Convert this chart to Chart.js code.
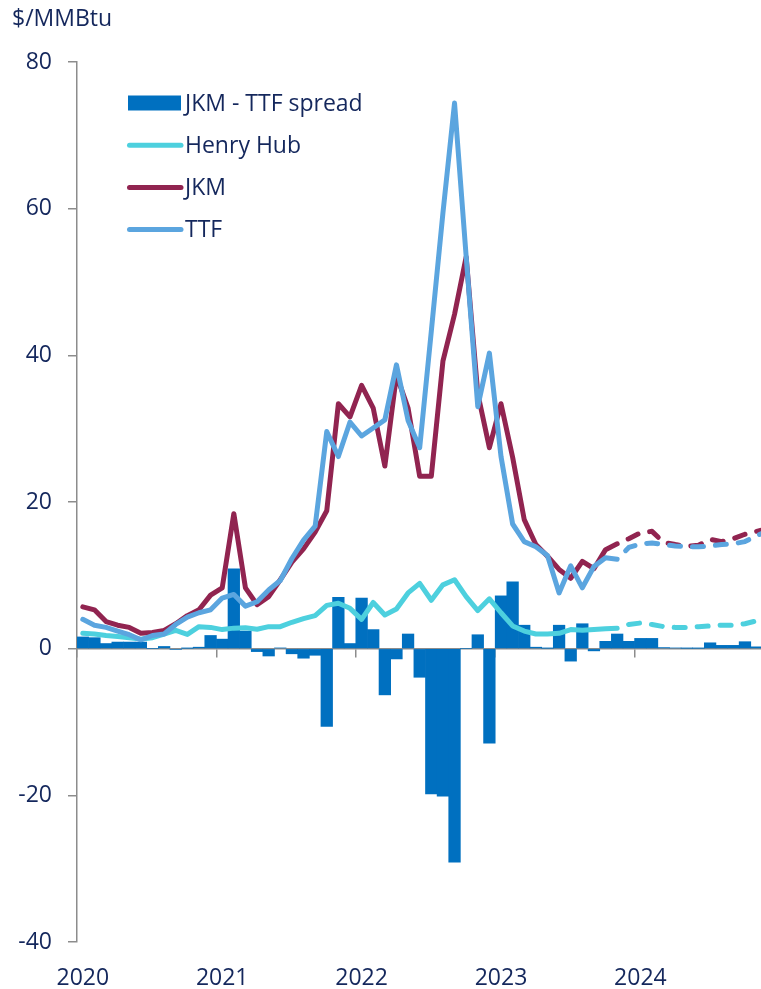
<!DOCTYPE html>
<html>
<head>
<meta charset="utf-8">
<script src="https://cdn.jsdelivr.net/npm/chart.js@4.4.1/dist/chart.umd.min.js"></script>
<style>
html,body{margin:0;padding:0;background:#fff;overflow:hidden;width:761px;height:989px}
#wrap{position:absolute;left:0;top:0;width:774px;height:989px}
</style>
</head>
<body>
<div id="wrap"><canvas id="c" width="774" height="989" style="width:774px;height:989px"></canvas></div>
<script>
// ---- data ----
const categories = [
  'Jan 2020','Feb 2020','Mar 2020','Apr 2020','May 2020','Jun 2020','Jul 2020','Aug 2020','Sep 2020','Oct 2020','Nov 2020','Dec 2020',
  'Jan 2021','Feb 2021','Mar 2021','Apr 2021','May 2021','Jun 2021','Jul 2021','Aug 2021','Sep 2021','Oct 2021','Nov 2021','Dec 2021',
  'Jan 2022','Feb 2022','Mar 2022','Apr 2022','May 2022','Jun 2022','Jul 2022','Aug 2022','Sep 2022','Oct 2022','Nov 2022','Dec 2022',
  'Jan 2023','Feb 2023','Mar 2023','Apr 2023','May 2023','Jun 2023','Jul 2023','Aug 2023','Sep 2023','Oct 2023','Nov 2023','Dec 2023',
  'Jan 2024','Feb 2024','Mar 2024','Apr 2024','May 2024','Jun 2024','Jul 2024','Aug 2024','Sep 2024','Oct 2024','Nov 2024','Dec 2024'
];
const yearLabels = ['2020','2021','2022','2023','2024'];

const spread = [
  1.6, 1.5, 0.7, 0.9, 0.9, 0.9, 0.0, 0.3, -0.1, 0.05, 0.2, 1.8,
  1.3, 10.9, 2.4, -0.4, -1.0, 0.1, -0.7, -1.3, -0.9, -10.6, 7.0, 0.7,
  6.9, 2.6, -6.3, -1.4, 2.0, -3.9, -19.8, -20.1, -29.1, 0.0, 1.9, -12.9,
  7.2, 9.1, 3.2, 0.2, 0.05, 3.2, -1.7, 3.4, -0.3, 1.0, 2.0, 1.0,
  1.4, 1.4, 0.15, 0.1, 0.05, 0.05, 0.8, 0.45, 0.45, 0.95, 0.25, 0.2
];
const henryHub = [
  2.1, 2.0, 1.8, 1.65, 1.5, 1.3, 1.5, 2.0, 2.5, 1.95, 3.0, 2.9,
  2.6, 2.8, 2.85, 2.65, 3.0, 3.0, 3.6, 4.1, 4.5, 5.9, 6.2, 5.5,
  4.0, 6.3, 4.6, 5.4, 7.6, 8.9, 6.6, 8.7, 9.4, 7.1, 5.2, 6.8,
  4.9, 3.1, 2.4, 2.0, 2.0, 2.1, 2.6, 2.5, 2.6, 2.7, 2.8, 3.3,
  3.5, 3.3, 3.0, 2.9, 2.9, 3.0, 3.1, 3.2, 3.2, 3.4, 3.8, 4.2
];
const jkm = [
  5.7, 5.3, 3.7, 3.2, 2.9, 2.1, 2.2, 2.5, 3.4, 4.5, 5.3, 7.3,
  8.3, 18.4, 8.3, 6.0, 7.1, 9.4, 11.8, 13.6, 15.9, 18.8, 33.4, 31.6,
  35.9, 32.8, 24.9, 37.3, 32.8, 23.5, 23.5, 39.2, 45.6, 53.4, 34.8, 27.4,
  33.4, 26.1, 17.6, 14.2, 12.6, 10.8, 9.6, 11.9, 10.9, 13.5, 14.3, 15.0,
  15.8, 16.0, 14.5, 14.2, 13.95, 14.1, 14.9, 14.6, 15.0, 15.6, 16.0, 16.4
];
const ttf = [
  4.0, 3.2, 2.9, 2.4, 1.9, 1.2, 1.8, 2.0, 3.3, 4.3, 4.9, 5.3,
  6.9, 7.4, 5.8, 6.4, 8.0, 9.3, 12.3, 14.8, 16.7, 29.6, 26.2, 30.9,
  29.0, 30.1, 31.2, 38.7, 31.1, 27.4, 43.3, 59.4, 74.4, 53.5, 33.0, 40.3,
  26.2, 17.0, 14.6, 13.9, 12.7, 7.6, 11.3, 8.3, 11.2, 12.4, 12.2, 13.8,
  14.3, 14.4, 14.2, 14.0, 13.9, 13.9, 14.0, 14.2, 14.3, 14.6, 15.4, 16.1
];
const forecastFrom = 46; // index of last actual month; dashed afterwards

// ---- styles ----
const FONT = '"Open Sans", "Noto Sans", sans-serif';
const NAVY = '#14275c';
const GRAY = '#8c8c8c';
const C_BAR = '#0070c0';
const C_HH = '#4dd0de';
const C_JKM = '#912450';
const C_TTF = '#5ba5df';
const FS = 23;

const dashSeg = {
  borderDash: ctx => ctx.p0DataIndex >= forecastFrom ? [11, 12] : undefined,
  borderDashOffset: ctx => ctx.p0DataIndex >= forecastFrom ? 11 : undefined
};

function lineDs(label, data, color, order) {
  return {
    type: 'line', label, data, borderColor: color, backgroundColor: color,
    borderWidth: 5, pointRadius: 0, pointHoverRadius: 0, tension: 0,
    borderJoinStyle: 'round', borderCapStyle: 'round',
    segment: dashSeg, order, xAxisID: 'x', yAxisID: 'y'
  };
}

const insideLegend = {
  id: 'insideLegend',
  afterDraw(chart) {
    const ctx = chart.ctx;
    const x0 = 128, x1 = 181, tx = 185;
    ctx.save();
    ctx.font = FS + 'px ' + FONT;
    ctx.textBaseline = 'middle';
    ctx.textAlign = 'left';
    chart.data.datasets.forEach((d, k) => {
      const y = 103 + k * 42.2;
      if (d.type === 'bar') {
        ctx.fillStyle = d.backgroundColor;
        ctx.fillRect(x0, y - 7.5, x1 - x0, 15);
      } else {
        ctx.strokeStyle = d.borderColor;
        ctx.lineWidth = 5;
        ctx.lineCap = 'round';
        ctx.beginPath();
        ctx.moveTo(x0 + 1.5, y);
        ctx.lineTo(x1, y);
        ctx.stroke();
      }
      ctx.fillStyle = NAVY;
      ctx.fillText(d.label, tx, y + 1);
    });
    ctx.restore();
  }
};

new Chart(document.getElementById('c'), {
  type: 'bar',
  data: {
    labels: categories,
    datasets: [
      { type: 'bar', label: 'JKM - TTF spread', data: spread, backgroundColor: C_BAR,
        borderWidth: 0, barPercentage: 1, categoryPercentage: 1, order: 4, xAxisID: 'x', yAxisID: 'y' },
      lineDs('Henry Hub', henryHub, C_HH, 3),
      lineDs('JKM', jkm, C_JKM, 2),
      lineDs('TTF', ttf, C_TTF, 1)
    ]
  },
  options: {
    responsive: false,
    animation: false,
    events: [],
    layout: { padding: { left: 12, right: 0, top: 0, bottom: 0 } },
    plugins: {
      legend: { display: false },
      tooltip: { enabled: false },
      title: {
        display: true, text: '$/MMBtu', align: 'start', color: NAVY,
        font: { family: FONT, size: FS, weight: 'normal' },
        padding: { top: 6, bottom: 28.4 }
      }
    },
    scales: {
      x: {
        type: 'category', position: 'bottom', offset: true,
        grid: { display: false, offset: true },
        border: { display: false },
        ticks: {
          autoSkip: false, maxRotation: 0, minRotation: 0, padding: 15,
          color: NAVY, font: { family: FONT, size: FS },
          callback: (v, i) => (i % 12 === 0 ? yearLabels[i / 12] : '')
        },
        afterFit: s => { s.height = 47; s.paddingRight = 0; s.paddingLeft = 0; }
      },
      x2: {
        type: 'category', position: { y: 0 }, offset: true, z: 1,
        grid: {
          offset: true, drawOnChartArea: false, drawTicks: true, tickLength: 8, lineWidth: 1.5,
          color: ctx => (ctx.index !== undefined && ctx.index % 12 === 0 ? GRAY : 'rgba(0,0,0,0)')
        },
        border: { display: true, color: GRAY, width: 1.5 },
        ticks: { display: false, autoSkip: false },
        afterFit: s => { s.height = 0; s.paddingRight = 0; s.paddingLeft = 0; }
      },
      y: {
        type: 'linear', position: 'left', min: -40, max: 80,
        ticks: { stepSize: 20, color: NAVY, font: { family: FONT, size: FS }, padding: 16 },
        grid: { drawOnChartArea: false, drawTicks: true, tickLength: 9, color: GRAY, lineWidth: 1.5 },
        border: { display: true, color: GRAY, width: 1.5 },
        afterFit: s => { s.width = 65; }
      }
    }
  },
  plugins: [insideLegend]
});
</script>
</body>
</html>
